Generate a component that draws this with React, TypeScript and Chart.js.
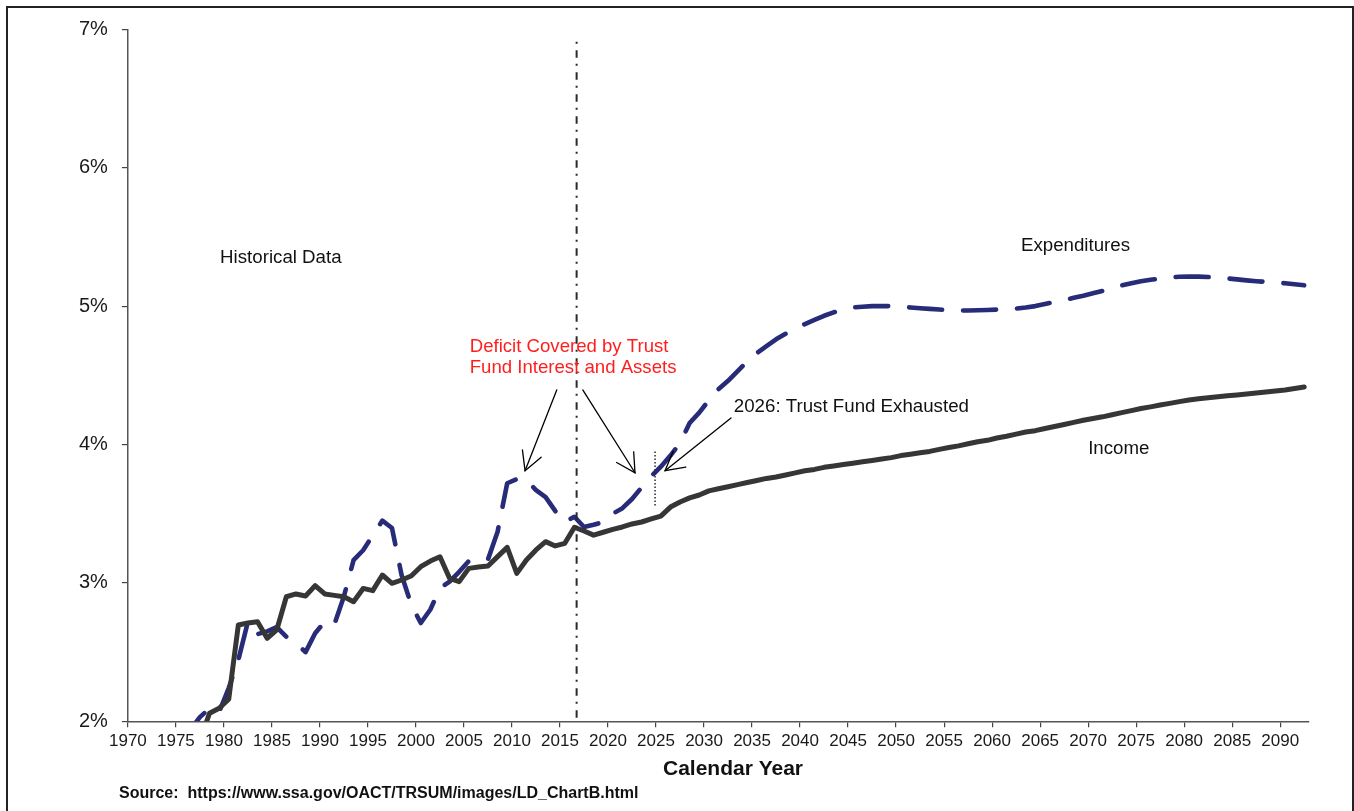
import React, { useEffect, useRef } from "react";
import { Chart, registerables } from "chart.js";

Chart.register(...registerables);

// ---------- DATA ----------
// Calendar years (categories)
const years: number[] = Array.from({ length: 123 }, (_, i) => 1970 + i); // 1970..2092

// Income as % of taxable payroll
const income: number[] = [
  1.40, 1.45, 1.50, 1.70, 1.75, 1.78, 1.82, 1.86, 2.058, 2.094, // 1970-1979
  2.159, 2.696, 2.71, 2.72, 2.60, 2.66, 2.90, 2.92, 2.905, 2.98, // 1980-1989
  2.92, 2.91, 2.90, 2.864, 2.96, 2.944, 3.057, 2.997, 3.021, 3.05, // 1990-1999
  3.117, 3.158, 3.189, 3.033, 3.009, 3.105, 3.115, 3.122, 3.19, 3.257, // 2000-2009
  3.069, 3.165, 3.238, 3.298, 3.267, 3.286, 3.402, 3.375, 3.345, 3.366, // 2010-2019
  3.387, 3.404, 3.426, 3.44, 3.462, 3.483, 3.548, 3.585, 3.614, 3.635, // 2020-2029
  3.665, 3.68, 3.695, 3.71, 3.725, 3.74, 3.755, 3.765, 3.78, 3.795, // 2030-2039
  3.81, 3.82, 3.835, 3.845, 3.855, 3.865, 3.875, 3.885, 3.895, 3.905, // 2040-2049
  3.92, 3.93, 3.94, 3.95, 3.965, 3.978, 3.99, 4.005, 4.02, 4.03, // 2050-2059
  4.047, 4.06, 4.075, 4.09, 4.10, 4.116, 4.13, 4.145, 4.16, 4.175, // 2060-2069
  4.188, 4.2, 4.215, 4.23, 4.245, 4.26, 4.272, 4.285, 4.297, 4.31, // 2070-2079
  4.321, 4.33, 4.337, 4.345, 4.352, 4.358, 4.365, 4.372, 4.38, 4.387, // 2080-2089
  4.394, 4.405, 4.416, // 2090-2092
];

// Expenditures as % of taxable payroll
const expenditures: number[] = [
  1.20, 1.30, 1.35, 1.50, 1.60, 1.75, 1.94, 2.03, 2.094, 2.067, // 1970-1979
  2.24, 2.443, 2.72, 2.63, 2.65, 2.68, 2.61, 2.566, 2.50, 2.636, // 1980-1989
  2.72, 2.70, 2.904, 3.164, 3.236, 3.343, 3.45, 3.397, 3.057, 2.844, // 1990-1999
  2.71, 2.808, 2.961, 3.01, 3.08, 3.158, 3.165, 3.17, 3.37, 3.72, // 2000-2009
  3.749, 3.744, 3.67, 3.62, 3.52, 3.44, 3.478, 3.404, 3.42, 3.44, // 2010-2019
  3.50, 3.54, 3.606, 3.69, 3.77, 3.84, 3.92, 4.01, 4.155, 4.23, // 2020-2029
  4.32, 4.40, 4.46, 4.53, 4.60, 4.66, 4.71, 4.76, 4.80, 4.84, // 2030-2039
  4.87, 4.90, 4.93, 4.955, 4.975, 4.99, 4.995, 5.0, 5.0, 5.0, // 2040-2049
  4.995, 4.99, 4.985, 4.98, 4.975, 4.97, 4.968, 4.968, 4.97, 4.972, // 2050-2059
  4.975, 4.978, 4.982, 4.99, 5.0, 5.015, 5.03, 5.044, 5.06, 5.075, // 2060-2069
  5.093, 5.11, 5.13, 5.15, 5.165, 5.18, 5.19, 5.20, 5.207, 5.212, // 2070-2079
  5.213, 5.213, 5.21, 5.207, 5.20, 5.193, 5.186, 5.18, 5.175, 5.17, // 2080-2089
  5.165, 5.158, 5.15, // 2090-2092
];

const xAxisTitle = "Calendar Year";
const sourceText = "Source:  https://www.ssa.gov/OACT/TRSUM/images/LD_ChartB.html";

// Annotation texts anchored in axis units (year, percent)
const labelsBlack = [
  { text: "Historical Data", x: 1979.6, y: 5.31 },
  { text: "Expenditures", x: 2063.0, y: 5.395 },
  { text: "2026: Trust Fund Exhausted", x: 2033.1, y: 4.232 },
  { text: "Income", x: 2070.0, y: 3.928 },
];
const labelsRed = [
  { text: "Deficit Covered by Trust", x: 2005.6, y: 4.665 },
  { text: "Fund Interest and Assets", x: 2005.6, y: 4.514 },
];
// Arrows: from (x1,y1) to tip (x2,y2)
const arrows = [
  { x1: 2014.66, y1: 4.394, x2: 2011.36, y2: 3.811 },
  { x1: 2017.37, y1: 4.394, x2: 2022.81, y2: 3.796 },
  { x1: 2032.81, y1: 4.192, x2: 2025.94, y2: 3.811 },
];
const historicalEndLine = { x: 2016.73, from: 2, to: 6.91 };
const exhaustionLine = { x: 2024.9, from: 3.56, to: 3.95 };

const FONT = '"Liberation Sans", Arial, Helvetica, sans-serif';

const overlayPlugin = {
  id: "overlay",
  afterDatasetsDraw(chart: any) {
    const { ctx } = chart;
    const xs = chart.scales.x;
    const ys = chart.scales.y;
    const px = (v: number) => xs.getPixelForValue(v);
    const py = (v: number) => ys.getPixelForValue(v);
    ctx.save();

    // dash-dot historical boundary line
    ctx.strokeStyle = "#2a2a2a";
    ctx.lineWidth = 2;
    ctx.setLineDash([2, 6.5, 7.5, 6]);
    ctx.beginPath();
    ctx.moveTo(px(historicalEndLine.x), py(historicalEndLine.to));
    ctx.lineTo(px(historicalEndLine.x), py(historicalEndLine.from));
    ctx.stroke();

    // dotted exhaustion marker
    ctx.lineWidth = 1.5;
    ctx.setLineDash([1.5, 2]);
    ctx.beginPath();
    ctx.moveTo(px(exhaustionLine.x), py(exhaustionLine.to));
    ctx.lineTo(px(exhaustionLine.x), py(exhaustionLine.from));
    ctx.stroke();

    // arrows
    ctx.setLineDash([]);
    ctx.strokeStyle = "#000";
    ctx.lineWidth = 1.3;
    ctx.lineCap = "round";
    ctx.lineJoin = "miter";
    arrows.forEach((a) => {
      const x1 = px(a.x1), y1 = py(a.y1), x2 = px(a.x2), y2 = py(a.y2);
      ctx.beginPath();
      ctx.moveTo(x1, y1);
      ctx.lineTo(x2, y2);
      ctx.stroke();
      const ang = Math.atan2(y2 - y1, x2 - x1);
      const L = 21, A = 0.5;
      ctx.beginPath();
      ctx.moveTo(x2 - L * Math.cos(ang - A), y2 - L * Math.sin(ang - A));
      ctx.lineTo(x2, y2);
      ctx.lineTo(x2 - L * Math.cos(ang + A), y2 - L * Math.sin(ang + A));
      ctx.stroke();
    });

    // texts
    ctx.textAlign = "left";
    ctx.textBaseline = "alphabetic";
    ctx.font = `18.7px ${FONT}`;
    ctx.fillStyle = "#111";
    labelsBlack.forEach((l) => ctx.fillText(l.text, px(l.x), py(l.y)));
    ctx.font = `18.6px ${FONT}`;
    ctx.fillStyle = "#ff1e1e";
    labelsRed.forEach((l) => ctx.fillText(l.text, px(l.x), py(l.y)));
    ctx.restore();
  },
  afterDraw(chart: any) {
    const { ctx } = chart;
    ctx.save();
    ctx.fillStyle = "#111";
    ctx.textBaseline = "alphabetic";
    ctx.font = `bold 21px ${FONT}`;
    ctx.textAlign = "center";
    ctx.fillText(xAxisTitle, 733, 775);
    ctx.font = `bold 16px ${FONT}`;
    ctx.textAlign = "left";
    ctx.fillText(sourceText, 119, 797.5);
    ctx.restore();
  },
};

export default function App() {
  const canvasRef = useRef<HTMLCanvasElement | null>(null);

  useEffect(() => {
    const canvas = canvasRef.current;
    if (!canvas) return;
    const chart = new Chart(canvas, {
      type: "line",
      data: {
        datasets: [
          {
            label: "Income",
            // category centre: each year sits half a step right of its tick
            data: years.map((yr, i) => ({ x: yr + 0.5, y: income[i] })),
            borderColor: "#363636",
            borderWidth: 5,
            pointRadius: 0,
            tension: 0,
            borderJoinStyle: "round",
            borderCapStyle: "round",
            fill: false,
          },
          {
            label: "Expenditures",
            data: years.map((yr, i) => ({ x: yr + 0.5, y: expenditures[i] })),
            borderColor: "#272b78",
            borderWidth: 4.6,
            borderDash: [33, 21],
            borderCapStyle: "round",
            borderJoinStyle: "round",
            pointRadius: 0,
            tension: 0,
            fill: false,
          },
        ],
      },
      options: {
        animation: false,
        responsive: false,
        maintainAspectRatio: false,
        devicePixelRatio: 1,
        layout: { padding: { top: 29.3, right: 45, left: 0, bottom: 0 } },
        plugins: {
          legend: { display: false },
          tooltip: { enabled: false },
          title: { display: false },
        },
        scales: {
          x: {
            type: "linear",
            min: 1970,
            max: 2093,
            afterFit: (s: any) => {
              s.height = 89.7;
            },
            ticks: {
              stepSize: 5,
              includeBounds: false,
              autoSkip: false,
              maxRotation: 0,
              minRotation: 0,
              padding: 4,
              color: "#1a1a1a",
              font: { family: FONT, size: 17 },
              callback: (v: any) => String(v),
            },
            grid: {
              drawOnChartArea: false,
              drawTicks: true,
              tickLength: 6,
              color: "#444",
              lineWidth: 1.2,
            },
            border: { color: "#555", width: 1.5 },
          },
          y: {
            type: "linear",
            min: 2,
            max: 7,
            afterFit: (s: any) => {
              s.width = 127.9;
            },
            ticks: {
              stepSize: 1,
              padding: 14,
              color: "#1a1a1a",
              font: { family: FONT, size: 20 },
              callback: (v: any) => `${v}%`,
            },
            grid: {
              drawOnChartArea: false,
              drawTicks: true,
              tickLength: 6,
              color: "#444",
              lineWidth: 1.2,
            },
            border: { color: "#555", width: 1.5 },
          },
        },
      },
      plugins: [overlayPlugin],
    } as any);
    return () => chart.destroy();
  }, []);

  return (
    <>
      <div
        style={{
          position: "absolute",
          left: 6,
          top: 6,
          width: 1347.5,
          height: 805,
          boxSizing: "border-box",
          borderTop: "2px solid #222",
          borderLeft: "2.5px solid #222",
          borderRight: "2.5px solid #222",
          borderBottom: "none",
          pointerEvents: "none",
        }}
      />
      <canvas
        ref={canvasRef}
        width={1354}
        height={811}
        style={{ position: "absolute", left: 0, top: 0, width: 1354, height: 811 }}
      />
    </>
  );
}
